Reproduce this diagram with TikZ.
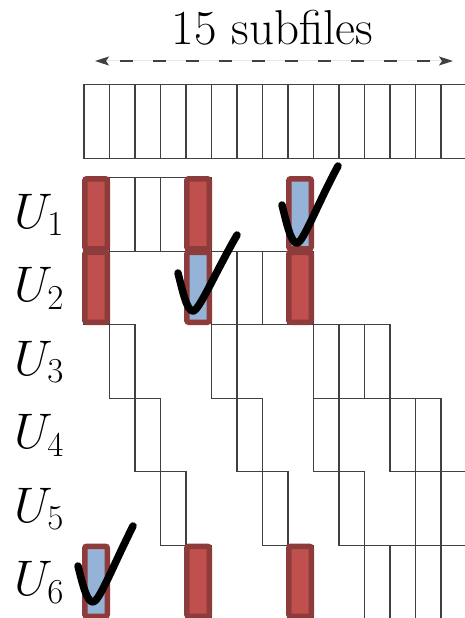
\RequirePackage{fix-cm}
\documentclass[tikz,border=0pt]{standalone}
\usetikzlibrary{arrows.meta}
\definecolor{gridgray}{HTML}{404040}
\definecolor{bardark}{HTML}{8E3B3B}
\definecolor{barred}{HTML}{C0504D}
\definecolor{barblue}{HTML}{95B3D7}

\begin{document}
\begin{tikzpicture}[x=1pt, y=-1pt,
    cell/.style={rectangle, draw=gridgray, line width=1.3pt, minimum width=25.5pt, minimum height=73.5pt, inner sep=0pt, anchor=north west},
    bar/.style={rectangle, draw=bardark, line width=5.5pt, rounded corners=2pt, fill=#1, minimum width=22.5pt, minimum height=70pt, inner sep=0pt},
    bar/.default=barred,
    tick/.style={line width=7.5pt, line cap=round, line join=round},
    lbl/.style={font=\fontsize{49}{54}\selectfont, inner sep=0pt}
]
\useasboundingbox (0,0) rectangle (464,618);

% title and span arrow
\node[lbl, anchor=base] (title) at (272.5,45) {15 subfiles};
\coordinate (spanl) at (95,61);
\coordinate (spanr) at (453,61);
\draw[{Stealth[length=14pt, width=9pt, inset=3pt]}-{Stealth[length=14pt, width=9pt, inset=3pt]}, draw=gridgray, fill=gridgray, line width=1.2pt, dash pattern=on 13pt off 20pt, dash phase=-14pt] (spanl) -- (spanr);

% the file, split into subfiles
\foreach \c in {0,...,14}
  \node[cell] (f\c) at ({83.3+25.5*\c}, 84) {};

% users
\foreach \r in {1,...,6}
  \node[lbl, font=\fontsize{50}{55}\selectfont, anchor=base west] (u\r) at (14, {228+73.5*(\r-1)}) {$U_{\r}$};

% each subfile is cached by two users
\foreach \c/\a/\b in {0/1/2, 1/1/3, 2/1/4, 3/1/5, 4/1/6, 5/2/3, 6/2/4, 7/2/5,
                      8/2/6, 9/3/4, 10/3/5, 11/3/6, 12/4/6, 13/4/5, 14/5/6} {
  \node[cell] (c\c-\a) at ({83.3+25.5*\c}, {177+73.5*(\a-1)}) {};
  \node[cell] (c\c-\b) at ({83.3+25.5*\c}, {177+73.5*(\b-1)}) {};
}

% highlighted subfiles (blue = requested)
\foreach \c/\r/\col in {0/1/barred, 0/2/barred, 0/6/barblue,
                        4/1/barred, 4/2/barblue, 4/6/barred,
                        8/1/barblue, 8/2/barred, 8/6/barred}
  \node[bar=\col] (b\c-\r) at ({96.05+25.5*\c}, {213.75+73.5*(\r-1)}) {};

% check marks
\draw[tick, shift={(282,205)}] (0,0) .. controls (5,20) and (9,38) .. (15,38) .. controls (21,38) and (35,0) .. (56,-39);
\draw[tick, shift={(178,273)}] (0,0) .. controls (5,20) and (9,38) .. (15,38) .. controls (21,38) and (37,0) .. (59,-38);
\draw[tick, shift={(78,566)}] (0,0) .. controls (5,20) and (9,36) .. (15,36) .. controls (21,36) and (35,0) .. (55,-40);

\end{tikzpicture}
\end{document}
